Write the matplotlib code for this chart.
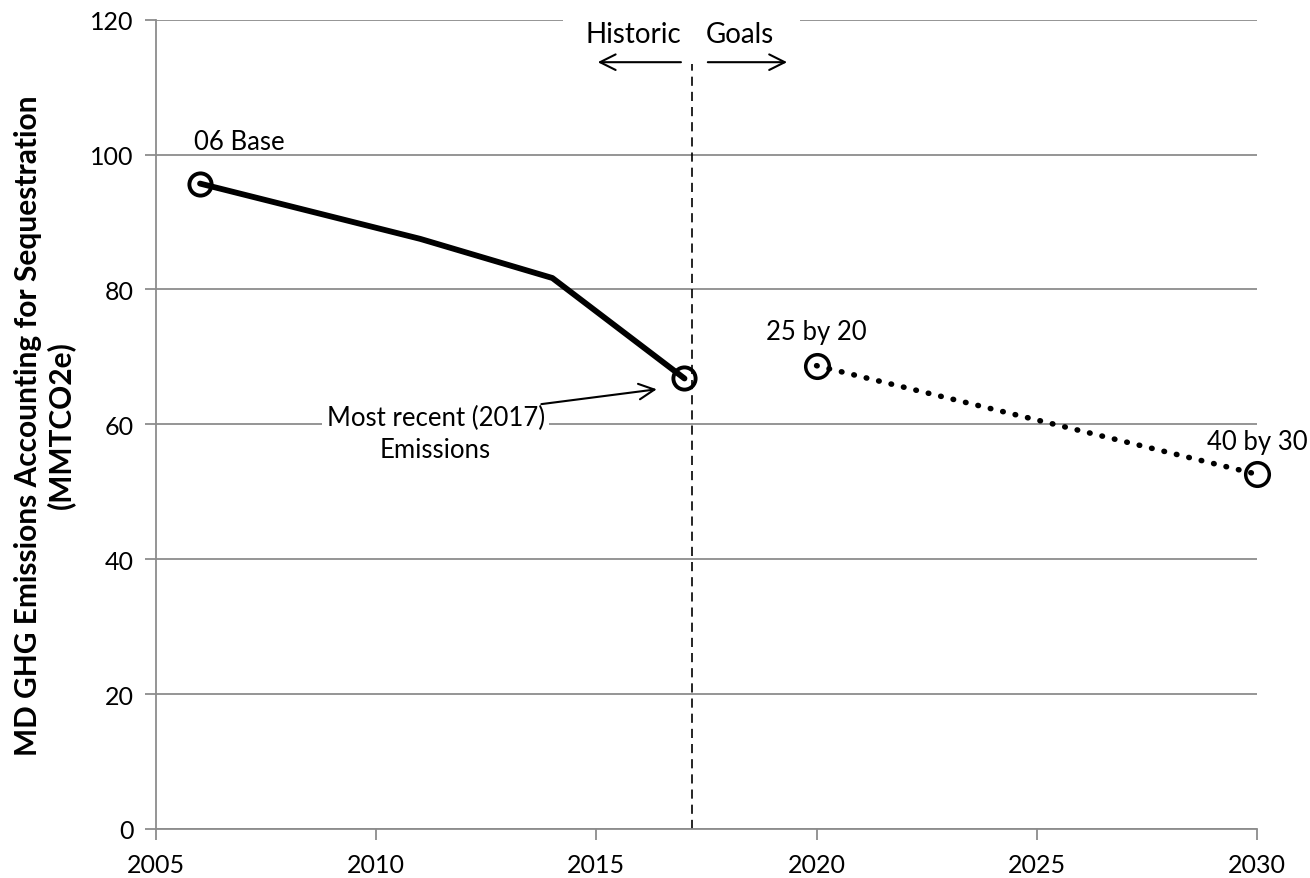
import matplotlib
matplotlib.use("Agg")
import matplotlib.pyplot as plt

plt.rcParams['font.family'] = ['Lato', 'DejaVu Sans']

# historic emissions (MMTCO2e)
hist_years = [2006, 2011, 2014, 2017]
hist_values = [95.7, 87.5, 81.7, 66.8]

# goals
goal_years = [2020, 2030]
goal_values = [68.7, 52.6]

x_ticks = [2005, 2010, 2015, 2020, 2025, 2030]
y_ticks = [0, 20, 40, 60, 80, 100, 120]
split_year = 2017.17

grid_col = '#8c8c8c'

fig = plt.figure(figsize=(13.1, 8.79), dpi=100)
ax = fig.add_axes([156 / 1310, 1 - 830 / 879, (1257 - 156) / 1310, (830 - 20.7) / 879])

ax.set_xlim(2005, 2030)
ax.set_ylim(0, 120)
ax.set_xticks(x_ticks)
ax.set_yticks(y_ticks)
ax.yaxis.grid(True, color=grid_col, linewidth=1.3)
ax.set_axisbelow(True)
for s in ['top', 'right']:
    ax.spines[s].set_visible(False)
for s in ['left', 'bottom']:
    ax.spines[s].set_color(grid_col)
    ax.spines[s].set_linewidth(1.3)
ax.tick_params(axis='both', colors=grid_col, length=8, width=1.3, labelsize=18,
               labelcolor='black')
ax.tick_params(axis='x', pad=9)
ax.tick_params(axis='y', pad=8)

# historic line
ax.plot(hist_years, hist_values, color='black', linewidth=4.2, solid_capstyle='round',
        zorder=3)
ax.plot([hist_years[0], hist_years[-1]], [hist_values[0], hist_values[-1]], 'o',
        markersize=16, markerfacecolor='none', markeredgecolor='black',
        markeredgewidth=2.8, zorder=4, clip_on=False)

# goal line
ax.plot(goal_years, goal_values, color='black', linewidth=4, linestyle=(0, (0.1, 2.2)),
        dash_capstyle='round', zorder=3)
ax.plot(goal_years, goal_values, 'o', markersize=17, markerfacecolor='none',
        markeredgecolor='black', markeredgewidth=2.5, zorder=4, clip_on=False)

# divider
ax.plot([split_year, split_year], [0, 113.5], color='black', linewidth=1.2,
        linestyle=(0, (5.5, 3.6)), zorder=2)

ax.add_patch(plt.Rectangle((2014.24, 115), 5.38, 10, facecolor='white', edgecolor='none',
                           zorder=1.5, clip_on=False))
ax.text(2015.84, 117.9, 'Historic', ha='center', va='center', fontsize=20)
ax.text(2018.26, 117.9, 'Goals', ha='center', va='center', fontsize=20)
ax.annotate('', xy=(2015.03, 113.7), xytext=(2016.92, 113.7),
            arrowprops=dict(arrowstyle='->', color='black', lw=1.5, mutation_scale=28,
                            shrinkA=0, shrinkB=0))
ax.annotate('', xy=(2019.33, 113.7), xytext=(2017.53, 113.7),
            arrowprops=dict(arrowstyle='->', color='black', lw=1.5, mutation_scale=28,
                            shrinkA=0, shrinkB=0))

ax.text(2006.9, 102, '06 Base', ha='center', va='center', fontsize=18.5)
ax.text(2020.0, 73.8, '25 by 20', ha='center', va='center', fontsize=18.5)
ax.text(2030.0, 57.5, '40 by 30', ha='center', va='center', fontsize=18.5)

ax.text(2011.35, 58.6, 'Most recent (2017)\nEmissions', ha='center', va='center',
        fontsize=18.5, linespacing=1.35,
        bbox=dict(facecolor='white', edgecolor='none', pad=3), zorder=2.5)
ax.annotate('', xy=(2016.37, 65.2), xytext=(2013.75, 63.0),
            arrowprops=dict(arrowstyle='->', color='black', lw=1.5, mutation_scale=28,
                            shrinkA=0, shrinkB=0), zorder=3)

ax.set_ylabel('MD GHG Emissions Accounting for Sequestration\n(MMTCO2e)',
              fontsize=21.5, fontweight='bold', labelpad=11, linespacing=1.15)

fig.savefig('out.png', dpi=100)
